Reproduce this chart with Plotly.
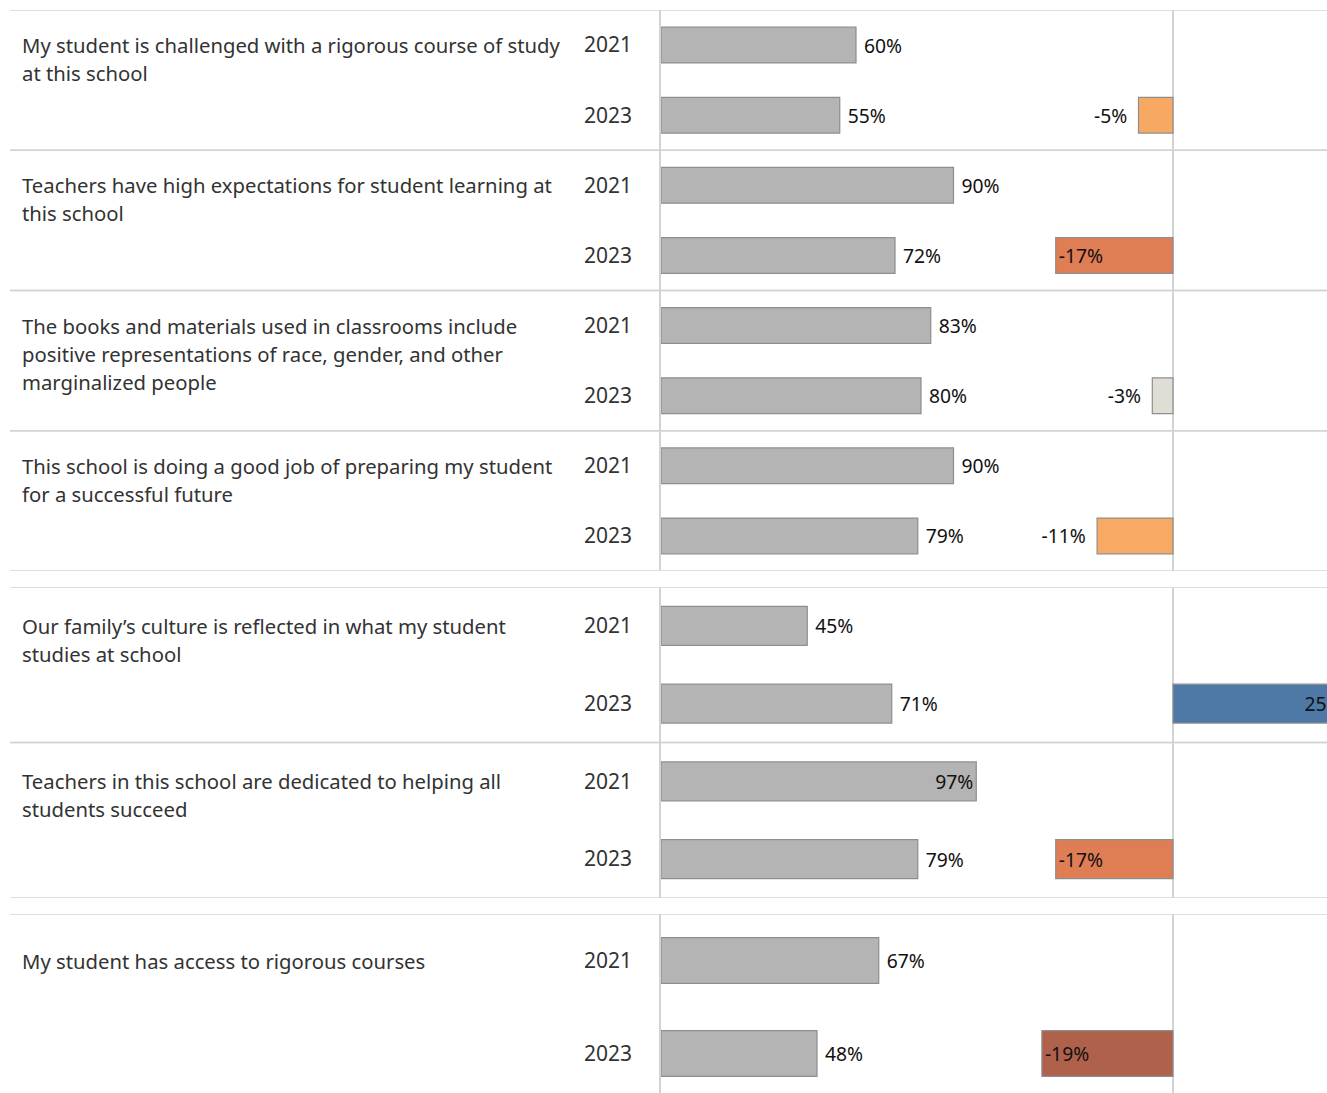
import plotly.graph_objects as go

# ---- data -------------------------------------------------------------
questions = [
    "My student is challenged with a rigorous course of study<br>at this school",
    "Teachers have high expectations for student learning at<br>this school",
    "The books and materials used in classrooms include<br>positive representations of race, gender, and other<br>marginalized people",
    "This school is doing a good job of preparing my student<br>for a successful future",
    "Our family\u2019s culture is reflected in what my student<br>studies at school",
    "Teachers in this school are dedicated to helping all<br>students succeed",
    "My student has access to rigorous courses",
]
years = ["2021", "2023"]
pct_2021 = [60, 90, 83, 90, 45, 97, 67]
pct_2023 = [55, 72, 80, 79, 71, 79, 48]
change = [-5, -17, -3, -11, 25, -17, -19]

# which questions sit in which block of the layout
groups = [[0, 1, 2, 3], [4, 5], [6]]

# ---- styling ----------------------------------------------------------
W, H = 1327, 1093
FONT = "Noto Sans"
TEXT_DARK = "#333333"
VALUE_TEXT = "#111111"
GRID = "#d3d3d3"
BAR_FILL = "#b4b4b4"
BAR_EDGE = "#8e8e8e"
change_colors = ["#f7a964", "#df7e55", "#e0ddd5", "#f8a963", "#4e79a7", "#df7e55", "#b0614b"]
PAD_L = "\u00a0"
PAD_R = "\u00a0\u2009"
LINE_GAP = 28  # px between wrapped lines of a question

# pixel extents of each block (top, bottom) and visible slot counts
block_px = [(10, 571), (587, 898), (914, 1093)]
block_range = [8, 4, 179 / 93]
bar_width = [0.51, 0.5, 0.49]

VAL_X0, VAL_X1 = 661, 1000          # value pane
CHG_X0, CHG_X1 = 1000, 1327         # change pane
VAL_SCALE = 3.25                    # px per percentage point
CHG_SCALE = 6.9
CHG_ZERO = 1173

def px_x(p):
    return p / W

def px_y(p):
    return 1 - p / H

fig = go.Figure()
layout_axes = {}
shapes = []
annotations = []

for g, members in enumerate(groups):
    yname = "y" if g == 0 else f"y{g + 1}"
    xv = f"x{2 * g + 1}" if g > 0 else "x"
    xc = f"x{2 * g + 2}"
    top, bottom = block_px[g]

    ypos, xvals, texts, tpos = [], [], [], []
    cy, cvals, ctexts, ctpos, ccols = [], [], [], [], []
    tickvals, ticktext = [], []
    for i, q in enumerate(members):
        base = 2 * i
        for k, (yr, v) in enumerate(zip(years, [pct_2021[q], pct_2023[q]])):
            ypos.append(base + k + 0.5)
            xvals.append(v)
            inside = v >= 95
            texts.append(f"{v}%" if inside else f"{PAD_L}{v}%")
            tpos.append("inside" if inside else "outside")
            tickvals.append(base + k + 0.5)
            ticktext.append(yr)
        c = change[q]
        inside = abs(c) >= 15
        cy.append(base + 1.5)
        cvals.append(c)
        ctexts.append(f"{c}%" if inside or c > 0 else f"{c}%{PAD_R}")
        ctpos.append("inside" if inside else "outside")
        ccols.append(change_colors[q])

        # question text, one annotation per wrapped line
        for j, line in enumerate(questions[q].split("<br>")):
            annotations.append(dict(
                xref="paper", x=px_x(19.5), xanchor="left",
                yref=yname, y=base + 0.5, yanchor="middle", yshift=-LINE_GAP * j,
                text=line, showarrow=False, align="left",
                font=dict(family=FONT, size=20.3, color=TEXT_DARK),
            ))
        # row separator lines
        for yb in (base, base + 2):
            shapes.append(dict(type="line", xref="paper", x0=px_x(10), x1=1,
                               yref=yname, y0=yb, y1=yb,
                               line=dict(color=GRID, width=1.5), layer="below"))

    fig.add_trace(go.Bar(
        x=xvals, y=ypos, orientation="h", xaxis=xv, yaxis=yname,
        width=bar_width[g], marker=dict(color=BAR_FILL, line=dict(color=BAR_EDGE, width=1.2)),
        text=texts, textposition=tpos, insidetextanchor="end", textangle=0,
        textfont=dict(family=FONT, size=19.3, color=VALUE_TEXT),
        cliponaxis=False, showlegend=False, hoverinfo="skip",
    ))
    fig.add_trace(go.Bar(
        x=cvals, y=cy, orientation="h", xaxis=xc, yaxis=yname,
        width=bar_width[g], marker=dict(color=ccols, line=dict(color=BAR_EDGE, width=1.2)),
        text=ctexts, textposition=ctpos, insidetextanchor="end", textangle=0,
        textfont=dict(family=FONT, size=19.3, color=VALUE_TEXT),
        constraintext="none", cliponaxis=True, showlegend=False, hoverinfo="skip",
    ))

    dom = [px_y(bottom), px_y(top)]
    layout_axes[("yaxis" if g == 0 else f"yaxis{g + 1}")] = dict(
        domain=dom, range=[block_range[g], 0], anchor=xv,
        tickvals=tickvals, ticktext=ticktext, ticks="", ticklabelstandoff=23,
        tickfont=dict(family=FONT, size=21, color=TEXT_DARK),
        showgrid=False, zeroline=False, showline=True, linecolor=GRID, linewidth=1.5,
        fixedrange=True,
    )
    layout_axes[("xaxis" if g == 0 else f"xaxis{2 * g + 1}")] = dict(
        domain=[px_x(VAL_X0), px_x(VAL_X1)],
        range=[0, (VAL_X1 - VAL_X0) / VAL_SCALE], anchor=yname,
        showticklabels=False, showgrid=False, zeroline=False, ticks="", fixedrange=True,
    )
    layout_axes[f"xaxis{2 * g + 2}"] = dict(
        domain=[px_x(CHG_X0), px_x(CHG_X1)],
        range=[-(CHG_ZERO - CHG_X0) / CHG_SCALE, (CHG_X1 - CHG_ZERO) / CHG_SCALE],
        anchor=yname, showticklabels=False, showgrid=False, ticks="",
        zeroline=True, zerolinecolor=GRID, zerolinewidth=1.5, fixedrange=True,
    )

fig.update_layout(
    width=W, height=H, margin=dict(l=0, r=0, t=0, b=0),
    paper_bgcolor="white", plot_bgcolor="rgba(0,0,0,0)",
    barmode="overlay", shapes=shapes, annotations=annotations,
    font=dict(family=FONT, color=TEXT_DARK),
    **layout_axes,
)

fig.write_html("out.html")
